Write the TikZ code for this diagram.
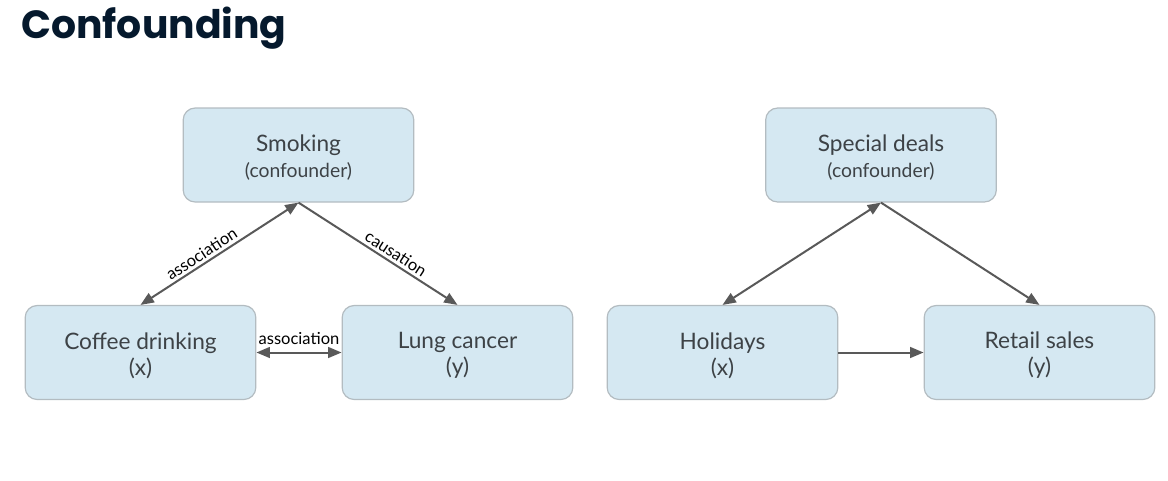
\documentclass[tikz,border=0pt]{standalone}
\usepackage{fontspec}
\setmainfont{Lato}
\newfontfamily\titlefont{Poppins}[UprightFont=* SemiBold, BoldFont=* Bold]
\usetikzlibrary{arrows.meta}
\definecolor{boxfill}{HTML}{D5E8F2}
\definecolor{boxline}{HTML}{B3BCC1}
\definecolor{txt}{HTML}{3D4246}
\definecolor{arr}{HTML}{595959}
\definecolor{navy}{HTML}{05192D}
\newcommand{\topstrut}{\rule{0pt}{17pt}}
\begin{document}
\begin{tikzpicture}[x=0.75pt,y=-0.75pt,
  box/.style={draw=boxline, line width=0.9pt, fill=boxfill, rounded corners=9pt,
    minimum width=173pt, minimum height=70.5pt, align=center, text=txt,
    font=\fontsize{17}{19.5}\selectfont, inner sep=0pt},
  conn/.style={draw=arr, line width=1.5pt, -{Triangle[length=10pt,width=8pt]}},
  biconn/.style={draw=arr, line width=1.5pt, {Triangle[length=10pt,width=8pt]}-{Triangle[length=10pt,width=8pt]}},
  lab/.style={font=\fontsize{12.4}{14}\selectfont, text=black, inner sep=2pt}]
\useasboundingbox (0,0) rectangle (1168,480);
\node[anchor=base west, inner sep=0pt, text=navy, font=\titlefont\bfseries\fontsize{29.5}{33}\selectfont] (title) at (21,38) {Confounding};

\node[box] (smoke) at (298.5,155) {\topstrut Smoking\\{\fontsize{14.5}{16}\selectfont(confounder)}};
\node[box] (coffee) at (140.5,352.5) {\topstrut Coffee drinking\\(x)};
\node[box] (lung) at (457.5,352.5) {\topstrut Lung cancer\\(y)};

\node[box] (deals) at (881,155) {\topstrut Special deals\\{\fontsize{14.5}{16}\selectfont(confounder)}};
\node[box] (hol) at (722.5,352.5) {\topstrut Holidays\\(x)};
\node[box] (retail) at (1039.5,352.5) {\topstrut Retail sales\\(y)};

\draw[biconn] (smoke.south) -- node[lab, sloped, above, pos=0.58] {association} (coffee.north);
\draw[conn] (smoke.south) -- node[lab, sloped, above, pos=0.58] {causation} (lung.north);
\draw[biconn] (coffee.east) -- node[lab, above, yshift=3pt] {association} (lung.west);

\draw[biconn] (deals.south) -- (hol.north);
\draw[conn] (deals.south) -- (retail.north);
\draw[conn] (hol.east) -- (retail.west);
\end{tikzpicture}
\end{document}
